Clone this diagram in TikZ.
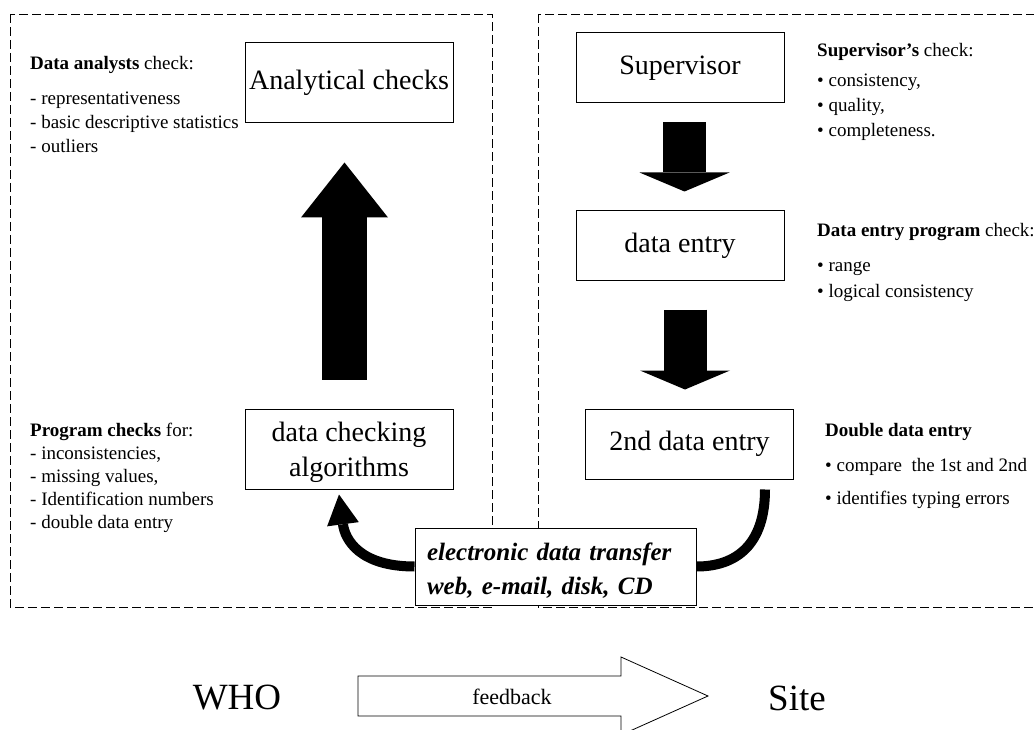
\documentclass[tikz,border=0pt]{standalone}
\usepackage{fontspec}
\setmainfont{Liberation Serif}
\usetikzlibrary{arrows.meta,positioning}
\tikzstyle{frame} = [draw, line width=0.8pt, dash pattern=on 9pt off 4pt]
\tikzstyle{stage} = [draw, line width=1pt, fill=white, minimum width=208pt, minimum height=70pt, inner sep=0pt, align=center, font=\fontsize{28}{35}\selectfont]
\tikzstyle{note} = [anchor=north west, inner sep=0pt, align=left]
\tikzstyle{transferbox} = [draw, line width=1pt, fill=white, text width=257pt, inner xsep=12pt, inner ysep=0pt, minimum height=77pt, align=left, font=\fontsize{25}{34}\selectfont\bfseries\itshape]
\tikzstyle{uparrow} = [line width=45pt, -{Triangle[width=87pt,length=55pt,line width=0pt]}]
\tikzstyle{downarrow} = [line width=43pt, -{Triangle[width=90pt,length=19pt,line width=0pt]}]
\tikzstyle{transfer} = [line width=10pt, -{Triangle[width=32pt,length=30pt,line width=0pt]}]
\tikzstyle{fbarrow} = [draw, line width=0.8pt, fill=white]
\newcommand{\notesize}[1]{\fontsize{19}{#1}\selectfont}

\begin{document}
\begin{tikzpicture}[x=1pt,y=-1pt]
\useasboundingbox (0,0) rectangle (1034,730);
% dashed frames
\draw[frame] (10,14) rectangle (492,607);
\draw[frame] (538,14) rectangle (1045,607);

% WHO side
\node[stage, minimum height=80pt] (analyt) at (349,83) {Analytical checks};
\node[stage, minimum height=80pt] (dcheck) at (349,449) {\rule{0pt}{27pt}data checking\\algorithms};
\node[note, font=\notesize{24}] (analystnote) at (30,56) {\textbf{Data analysts} check:\\[11pt]- representativeness\\- basic descriptive statistics\\- outliers};
\node[note, font=\notesize{23}] (prognote) at (30,423) {\textbf{Program checks} for:\\- inconsistencies,\\- missing values,\\- Identification numbers\\- double data entry};

% site side
\node[stage] (super) at (680,68) {Supervisor};
\node[stage] (dentry) at (680,246) {data entry};
\node[stage] (entry2) at (689.5,444) {2nd data entry};
\node[note, font=\notesize{25}] (supernote) at (817,43) {\textbf{Supervisor's} check:\\[5pt]• consistency,\\• quality,\\• completeness.};
\node[note, font=\notesize{26}] (entrynote) at (817,223) {\textbf{Data entry program} check:\\[9pt]• range\\• logical consistency};
\node[note, font=\notesize{33}] (doublenote) at (825,423) {\textbf{Double data entry}\\[2pt]• compare\ \ the 1st and 2nd\\• identifies typing errors};

\node[transferbox] (etrans) at (555.5,566.5) {\rule{0pt}{26pt}electronic data transfer\\web, e-mail, disk, CD};

% block arrows
\draw[uparrow] ([xshift=-4.5pt,yshift=29pt]dcheck.north) -- ([xshift=-4.5pt,yshift=-39pt]analyt.south);
\draw[downarrow] ([xshift=4.5pt,yshift=-19pt]super.south) -- ([xshift=4.5pt,yshift=19pt]dentry.north);
\draw[downarrow] ([xshift=5pt,yshift=-28pt]dentry.south) -- ([xshift=-4.5pt,yshift=19pt]entry2.north);
\draw[line width=10pt] ([xshift=75.5pt,yshift=-10pt]entry2.south) .. controls +(0,55) and +(40,0) .. (etrans.east);
\draw[transfer] (etrans.west) .. controls +(-55,0) and +(6,45) .. ([xshift=-10pt,yshift=-5pt]dcheck.south);

% feedback
\node[font=\fontsize{37}{40}\selectfont] (who) at (237,698) {WHO};
\node[font=\fontsize{37}{40}\selectfont] (site) at (797,698) {Site};
\draw[fbarrow] (358,676) -- (621,676) -- (621,657) -- (708,696) -- (621,735) -- (621,716) -- (358,716) -- cycle;
\node[font=\fontsize{22}{24}\selectfont] (fb) at (512,697) {feedback};
\end{tikzpicture}
\end{document}
